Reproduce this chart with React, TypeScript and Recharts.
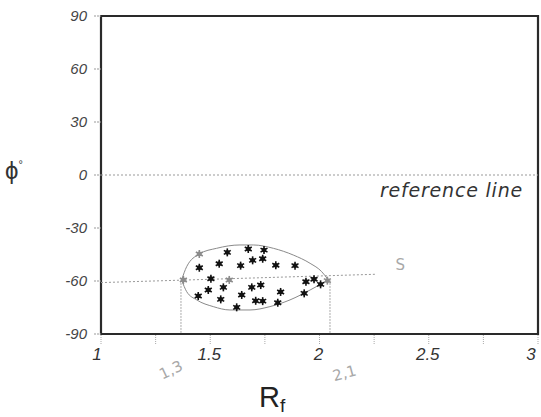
import {
  ComposedChart,
  Scatter,
  XAxis,
  YAxis,
  ReferenceLine,
  ReferenceArea,
  ReferenceDot,
} from "recharts";

// measured points (Rf, phi)
const rfBlack = [1.578, 1.674, 1.746, 1.74, 1.694, 1.541, 1.639, 1.8, 1.888, 1.45, 1.503, 1.938, 1.975, 2.005, 1.56, 1.69, 1.731, 1.491, 1.822, 1.445, 1.644, 1.93, 1.548, 1.708, 1.74, 1.809, 1.621];
const phiBlack = [-43.8, -41.9, -42.5, -47.4, -48.3, -50.2, -51.3, -51.1, -51.3, -52.5, -58.7, -60.4, -59.0, -61.9, -63.6, -63.6, -62.3, -65.1, -66.2, -68.5, -67.9, -67.0, -70.4, -71.2, -71.4, -72.3, -74.9];

const rfGray = [1.45, 1.377, 1.587, 2.036];
const phiGray = [-44.7, -59.4, -59.4, -59.8];

// outline of the data envelope
const rfTop = [1.369, 1.392, 1.45, 1.529, 1.636, 1.697, 1.789, 1.88, 1.957, 2.01, 2.04];
const phiTop = [-59.4, -51.9, -44.7, -41.5, -39.6, -39.6, -41.5, -45.3, -50.0, -54.7, -59.4];
const rfBottom = [1.369, 1.392, 1.438, 1.514, 1.59, 1.682, 1.773, 1.865, 1.957, 2.04];
const phiBottom = [-59.4, -66.0, -70.7, -74.5, -76.4, -76.4, -74.5, -70.7, -65.1, -59.4];

const xTicks = [1, 1.25, 1.5, 1.75, 2, 2.25, 2.5, 2.75, 3];
const yTicks = [90, 60, 30, 0, -30, -60, -90];

// hand drawn marks on the print
const meanLine = [
  { x: 1, y: -60.9 },
  { x: 2.254, y: -56.2 },
];
const rfMin = 1.366;
const rfMax = 2.048;

const zip = (xs: number[], ys: number[]) => xs.map((x, i) => ({ x, y: ys[i] }));

const FONT = "'Liberation Sans', Arial, sans-serif";

function Asterisk(props: any) {
  const { cx, cy, color } = props;
  if (cx == null || cy == null) return <g />;
  const r = 4;
  const d = r * 0.87;
  return (
    <g stroke={color} strokeWidth={1.6}>
      <line x1={cx} y1={cy - r} x2={cx} y2={cy + r} />
      <line x1={cx - d} y1={cy - r / 2} x2={cx + d} y2={cy + r / 2} />
      <line x1={cx - d} y1={cy + r / 2} x2={cx + d} y2={cy - r / 2} />
      <circle cx={cx} cy={cy} r={2.4} fill={color} stroke="none" />
    </g>
  );
}

function XTick(props: any) {
  const { x, y, payload } = props;
  const v = payload.value;
  if (v * 2 !== Math.round(v * 2)) return <g />;
  const dx = v === 3 ? -6 : v === 1 ? -4 : -1;
  return (
    <text x={x + dx} y={y + 14} textAnchor="middle" fontFamily={FONT} fontStyle="italic" fontSize={17} fill="#333">
      {String(v)}
    </text>
  );
}

function Scribble(props: any) {
  const { viewBox, value, rotate } = props;
  const x = viewBox.x + viewBox.width / 2;
  const y = viewBox.y + viewBox.height / 2;
  return (
    <text
      x={x}
      y={y}
      textAnchor="middle"
      fontFamily="'DejaVu Sans', sans-serif"
      fontSize={15}
      fill="#a8a8a8"
      transform={`rotate(${rotate} ${x} ${y})`}
    >
      {value}
    </text>
  );
}

export default function App() {
  return (
    <div style={{ position: "absolute", left: 0, top: 0, background: "#fff" }}>
      <ComposedChart width={541} height={417} margin={{ top: 16, right: 3, bottom: 0, left: 0 }}>
        <XAxis
          type="number"
          dataKey="x"
          domain={[1, 3]}
          ticks={xTicks}
          allowDataOverflow
          height={83}
          axisLine={false}
          tickSize={10}
          tickLine={{ stroke: "#aaa", strokeDasharray: "1 1" }}
          tick={<XTick />}
          label={{
            content: (p: any) => (
              <text x={p.viewBox.x + 158} y={p.viewBox.y + 73} fontFamily={FONT} fontSize={29} fill="#222">
                R
                <tspan fontSize={19} dy={5}>f</tspan>
              </text>
            ),
          }}
        />
        <YAxis
          type="number"
          dataKey="y"
          domain={[-90, 90]}
          ticks={yTicks}
          allowDataOverflow
          width={101}
          axisLine={false}
          tickSize={7}
          tickMargin={7}
          tickLine={{ stroke: "#999", strokeDasharray: "2 1" }}
          tick={{ fontFamily: FONT, fontStyle: "italic", fontSize: 15, fill: "#444" }}
          label={{
            content: (p: any) => (
              <text x={p.viewBox.x + 5} y={p.viewBox.y + 163} fontFamily={FONT} fontSize={24} fill="#333">
                ϕ
                <tspan fontSize={11} dy={-11}>°</tspan>
              </text>
            ),
          }}
        />

        <ReferenceArea x1={1} x2={3} y1={-90} y2={90} fill="none" stroke="#2a2a2a" strokeWidth={2.2} />

        <ReferenceLine
          y={0}
          stroke="#999"
          strokeDasharray="2 2"
          label={{
            content: (p: any) => (
              <text
                x={p.viewBox.x + p.viewBox.width - 15}
                y={p.viewBox.y + 22}
                textAnchor="end"
                fontFamily="'DejaVu Sans', sans-serif"
                fontStyle="italic"
                fontSize={19}
                letterSpacing={0.8}
                fill="#333"
              >
                reference line
              </text>
            ),
          }}
        />

        <ReferenceLine segment={meanLine} stroke="#999" strokeDasharray="2 2" ifOverflow="visible" />
        <ReferenceLine segment={[{ x: rfMin, y: -59.4 }, { x: rfMin, y: -90 }]} stroke="#aaa" strokeDasharray="2 1" ifOverflow="visible" />
        <ReferenceLine segment={[{ x: rfMax, y: -59.4 }, { x: rfMax, y: -90 }]} stroke="#aaa" strokeDasharray="2 1" ifOverflow="visible" />

        <Scatter
          data={zip(rfTop, phiTop)}
          line={{ stroke: "#8a8a8a", strokeWidth: 1 }}
          lineJointType="monotoneX"
          shape={() => <g />}
          isAnimationActive={false}
        />
        <Scatter
          data={zip(rfBottom, phiBottom)}
          line={{ stroke: "#8a8a8a", strokeWidth: 1 }}
          lineJointType="monotoneX"
          shape={() => <g />}
          isAnimationActive={false}
        />

        <Scatter data={zip(rfGray, phiGray)} shape={(p: any) => <Asterisk {...p} color="#8c8c8c" />} isAnimationActive={false} />
        <Scatter data={zip(rfBlack, phiBlack)} shape={(p: any) => <Asterisk {...p} color="#111" />} isAnimationActive={false} />

        <ReferenceDot x={1.33} y={-113} r={1} fill="none" stroke="none" ifOverflow="visible" label={{ content: (p: any) => <Scribble {...p} value="1,3" rotate={-25} /> }} />
        <ReferenceDot x={2.12} y={-115} r={1} fill="none" stroke="none" ifOverflow="visible" label={{ content: (p: any) => <Scribble {...p} value="2,1" rotate={-15} /> }} />
        <ReferenceDot x={2.37} y={-54} r={1} fill="none" stroke="none" ifOverflow="visible" label={{ content: (p: any) => <Scribble {...p} value="S" rotate={0} /> }} />
      </ComposedChart>
    </div>
  );
}
